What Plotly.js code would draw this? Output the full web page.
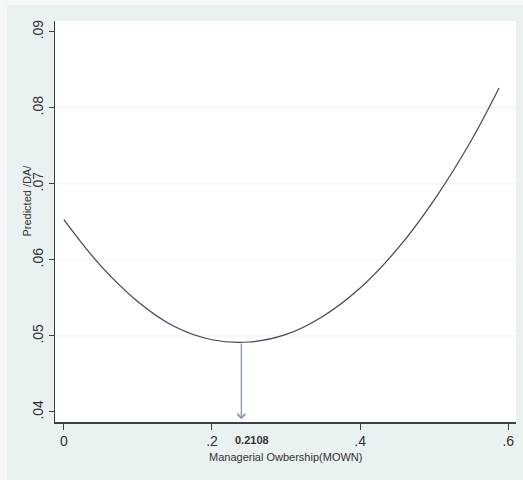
<!DOCTYPE html>
<html>
<head>
<meta charset="utf-8">
<script src="https://cdn.plot.ly/plotly-3.0.1.min.js"></script>
<style>
  html, body { margin: 0; padding: 0; background: #f4f8f8; width: 523px; height: 480px; overflow: hidden; }
  #chart { position: absolute; left: 7px; top: 5px; width: 516px; height: 475px; }
</style>
</head>
<body>
<div id="chart"></div>
<script>
// Values
var mownX  = [0, 0.05, 0.10, 0.15, 0.20, 0.25, 0.30, 0.35, 0.40, 0.45, 0.50, 0.55, 0.5875];
var predDA = [0.0653, 0.0592, 0.0545, 0.0512, 0.0495, 0.0492, 0.0502, 0.0526, 0.0563, 0.0614, 0.0679, 0.0757, 0.0826];
var xTickVals = [0, 0.2, 0.4, 0.6];
var xTickText = ['0', '.2', '.4', '.6'];
var yTickVals = [0.04, 0.05, 0.06, 0.07, 0.08, 0.09];
var yTickText = ['.04', '.05', '.06', '.07', '.08', '.09'];
var gridVals = [0.05, 0.06, 0.07, 0.08];
var minX = 0.2396, minY = 0.0492;
var minLabel = '0.2108';
var xTitle = 'Managerial Owbership(MOWN)';
var yTitle = 'Predicted /DA/';

var font = 'Liberation Sans, Arial, sans-serif';
var yMin = 0.03868, yMax = 0.09141;

var traces = [{
  x: mownX, y: predDA, type: 'scatter', mode: 'lines',
  line: { color: '#3d4757', width: 1.2, shape: 'spline', smoothing: 1 },
  hoverinfo: 'skip', showlegend: false
}];

var shapes = gridVals.map(function (v) {
  return { type: 'line', xref: 'paper', x0: 0, x1: 1, yref: 'y', y0: v, y1: v,
           line: { color: '#eef1f1', width: 1 }, layer: 'below' };
});

var annotations = [
  { x: minX, y: 0.03904, xref: 'x', yref: 'y', ax: minX, ay: minY, axref: 'x', ayref: 'y',
    text: '', showarrow: true, arrowhead: 4, arrowsize: 1.3, arrowwidth: 1.2, arrowcolor: '#7f93b5' },
  { x: 0.2288, y: -0.0457, xref: 'x', yref: 'paper', xanchor: 'left', yanchor: 'middle',
    text: '<b>' + minLabel + '</b>', showarrow: false, font: { family: font, size: 11, color: '#333' } },
  { x: 0.5, y: -0.088, xref: 'paper', yref: 'paper', xanchor: 'center', yanchor: 'middle',
    text: xTitle, showarrow: false, font: { family: font, size: 11, color: '#333' } },
  { x: -0.0596, y: 0.551, xref: 'paper', yref: 'paper', xanchor: 'center', yanchor: 'middle',
    textangle: -90, text: yTitle, showarrow: false, font: { family: font, size: 11, color: '#333' } }
];

var layout = {
  width: 516, height: 475,
  margin: { l: 48, r: 7, t: 16, b: 58, pad: 0 },
  paper_bgcolor: '#e9f1f1', plot_bgcolor: '#ffffff',
  font: { family: font, size: 14, color: '#333' },
  showlegend: false,
  xaxis: {
    range: [-0.0119, 0.6104], tickvals: xTickVals, ticktext: xTickText,
    showgrid: false, zeroline: false, showline: true, linecolor: '#3c4148', linewidth: 1.5,
    ticks: 'outside', ticklen: 6, tickcolor: '#3c4148', tickwidth: 1,
    tickfont: { family: font, size: 14, color: '#333' }
  },
  yaxis: {
    range: [yMin, yMax], tickvals: yTickVals, ticktext: yTickText, tickangle: -90,
    showgrid: false, zeroline: false, showline: true, linecolor: '#3c4148', linewidth: 1.5,
    ticks: 'outside', ticklen: 5, tickcolor: '#3c4148', tickwidth: 1,
    tickfont: { family: font, size: 14, color: '#333' }
  },
  shapes: shapes,
  annotations: annotations
};

Plotly.newPlot('chart', traces, layout, { displayModeBar: false, staticPlot: true });
</script>
</body>
</html>
